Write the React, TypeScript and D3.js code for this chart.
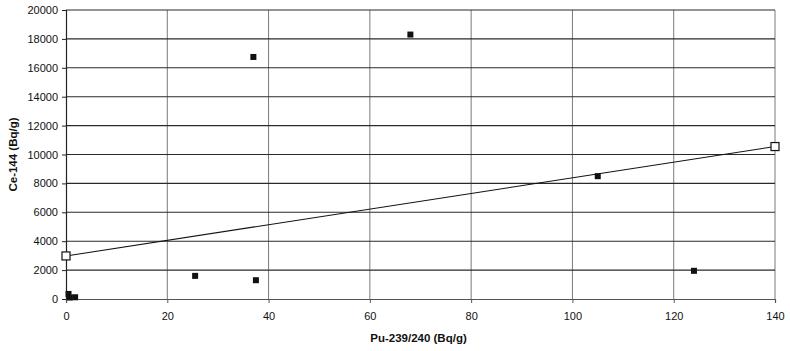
import { useEffect, useRef } from "react";
import * as d3 from "d3";

// measured points (Pu-239/240 vs Ce-144, Bq/g)
const puValues = [0.5, 0.7, 1.8, 25.5, 37.5, 37, 68, 105, 124];
const ceValues = [350, 100, 120, 1600, 1300, 16750, 18300, 8500, 1950];

// trend line end points
const trendX = [0, 140];
const trendY = [2980, 10550];

const xTicks = [0, 20, 40, 60, 80, 100, 120, 140];
const yTicks = [0, 2000, 4000, 6000, 8000, 10000, 12000, 14000, 16000, 18000, 20000];

const App: React.FC = () => {
    const svgRef = useRef<SVGSVGElement | null>(null);

    useEffect(() => {
        if (!svgRef.current) return;
        const width = 790;
        const height = 351;
        const margin = { top: 10, right: 15, bottom: 52, left: 66 };

        const svg = d3.select(svgRef.current);
        svg.selectAll("*").remove();

        const x = d3.scaleLinear().domain([0, 140]).range([margin.left, width - margin.right]);
        const y = d3.scaleLinear().domain([0, 20000]).range([height - margin.bottom, margin.top]);

        const font = "Arial, 'Liberation Sans', sans-serif";

        // vertical gridlines
        svg.append("g")
            .selectAll("line")
            .data(xTicks.slice(1))
            .enter()
            .append("line")
            .attr("x1", d => x(d))
            .attr("x2", d => x(d))
            .attr("y1", y(20000))
            .attr("y2", y(0))
            .attr("stroke", "#7a7a7a")
            .attr("stroke-width", 1);

        // horizontal gridlines
        svg.append("g")
            .selectAll("line")
            .data(yTicks.slice(1))
            .enter()
            .append("line")
            .attr("x1", x(0))
            .attr("x2", x(140))
            .attr("y1", d => y(d))
            .attr("y2", d => y(d))
            .attr("stroke", "#2a2a2a")
            .attr("stroke-width", 1.1);

        // y axis
        const yAxis = svg.append("g")
            .attr("transform", `translate(${x(0)},0)`)
            .call(d3.axisLeft(y).tickValues(yTicks).tickSize(4).tickPadding(4).tickFormat(d3.format("d")));
        yAxis.select(".domain").attr("stroke", "#222").attr("stroke-width", 1.2);
        yAxis.selectAll("line").attr("stroke", "#222");
        yAxis.selectAll("text").attr("font-family", font).attr("font-size", 11).attr("fill", "#111");

        // x axis
        const xAxis = svg.append("g")
            .attr("transform", `translate(0,${y(0)})`)
            .call(d3.axisBottom(x).tickValues(xTicks).tickSize(4).tickPadding(9).tickFormat(d3.format("d")));
        xAxis.select(".domain").attr("stroke", "#555").attr("stroke-width", 1.2);
        xAxis.selectAll("line").attr("stroke", "#555");
        xAxis.selectAll("text").attr("font-family", font).attr("font-size", 11).attr("fill", "#111");

        // trend line
        const line = d3.line<number>()
            .x((_, i) => x(trendX[i]))
            .y(d => y(d));
        svg.append("path")
            .datum(trendY)
            .attr("d", line)
            .attr("fill", "none")
            .attr("stroke", "#111")
            .attr("stroke-width", 1.1);

        svg.append("g")
            .selectAll("rect")
            .data(trendY)
            .enter()
            .append("rect")
            .attr("x", (_, i) => x(trendX[i]) - 4)
            .attr("y", d => y(d) - 4)
            .attr("width", 8)
            .attr("height", 8)
            .attr("fill", "#fff")
            .attr("stroke", "#111")
            .attr("stroke-width", 1.2);

        // data points
        svg.append("g")
            .selectAll("rect")
            .data(puValues)
            .enter()
            .append("rect")
            .attr("x", d => x(d) - 3)
            .attr("y", (_, i) => y(ceValues[i]) - 3)
            .attr("width", 6)
            .attr("height", 6)
            .attr("fill", "#111");

        // axis titles
        svg.append("text")
            .attr("x", (x(0) + x(140)) / 2 - 2)
            .attr("y", 342)
            .attr("text-anchor", "middle")
            .attr("font-family", font)
            .attr("font-size", 11.5)
            .attr("font-weight", "bold")
            .attr("fill", "#111")
            .text("Pu-239/240 (Bq/g)");

        svg.append("text")
            .attr("transform", `translate(17,${(y(0) + y(20000)) / 2}) rotate(-90)`)
            .attr("text-anchor", "middle")
            .attr("font-family", font)
            .attr("font-size", 11.5)
            .attr("font-weight", "bold")
            .attr("fill", "#111")
            .text("Ce-144 (Bq/g)");
    }, []);

    return (
        <svg
            ref={svgRef}
            width={790}
            height={351}
            style={{ position: "absolute", left: 0, top: 0, background: "#fff" }}
        ></svg>
    );
};

export default App;
